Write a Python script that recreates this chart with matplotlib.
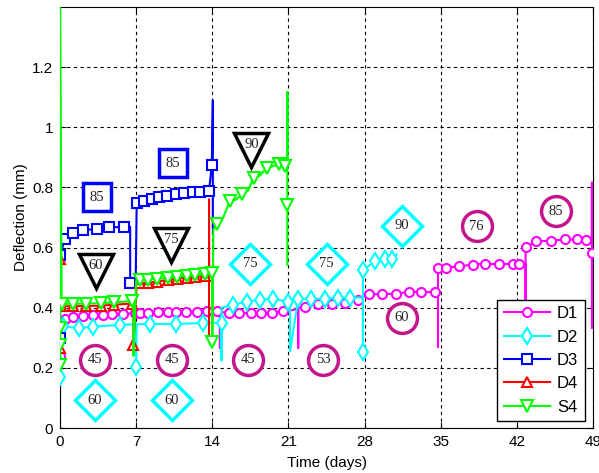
import matplotlib
matplotlib.use('Agg')
import matplotlib.pyplot as plt

# ---- series data (day, deflection in mm); m_* = indices that carry a marker
d1_x = [0, 0.3, 0.46, 1.22, 2.14, 3.06, 3.98, 4.75, 5.82, 6.9, 7.35, 8.1, 9.0, 9.95, 10.7, 11.6,
        12.55, 13.5, 14.4, 14.7, 14.7, 14.7, 15.5, 16.5, 17.6, 18.5, 19.45, 20.5, 21.9, 21.9, 21.9,
        22.5, 23.7, 25.0, 26.2, 27.4, 28.4, 29.6, 30.9, 32.1, 33.2, 34.5, 34.75, 34.75, 34.75,
        35.5, 36.7, 37.95, 39.1, 40.4, 41.6, 42.2, 42.8, 42.8, 42.8, 43.8, 45.15, 46.4, 47.5,
        48.4, 48.9, 48.9, 48.9, 48.9]
d1_y = [0.24, 0.355, 0.362, 0.368, 0.372, 0.375, 0.377, 0.378, 0.380, 0.381, 0.383, 0.384, 0.385,
        0.386, 0.386, 0.387, 0.387, 0.388, 0.388, 0.389, 0.267, 0.385, 0.384, 0.383, 0.381, 0.382,
        0.384, 0.388, 0.395, 0.266, 0.40, 0.404, 0.414, 0.413, 0.416, 0.427, 0.445, 0.445, 0.447,
        0.452, 0.453, 0.451, 0.451, 0.27, 0.533, 0.533, 0.538, 0.543, 0.547, 0.544, 0.547, 0.547,
        0.547, 0.427, 0.603, 0.621, 0.623, 0.627, 0.627, 0.624, 0.624, 0.816, 0.583, 0.333]
d1_m = [0, 2, 3, 4, 5, 6, 7, 8, 9, 10, 11, 12, 13, 14, 15, 16, 17, 18, 22, 23, 24, 25, 26, 27,
        31, 32, 33, 34, 35, 36, 37, 38, 39, 40, 41, 44, 45, 46, 47, 48, 49, 50, 51, 54, 55, 56,
        57, 58, 59, 62]

d2_x = [0, 0.1, 0.3, 1.75, 3.0, 5.5, 6.95, 7.0, 7.05, 8.3, 10.7, 13.1, 14.85, 14.85, 14.85, 15.9,
        17.15, 18.4, 19.6, 20.95, 21.15, 21.15, 21.9, 23.1, 24.4, 25.6, 26.7, 27.85, 27.85, 27.85,
        29.0, 29.9, 30.5, 30.95]
d2_y = [0.17, 0.32, 0.338, 0.332, 0.337, 0.343, 0.345, 0.204, 0.345, 0.346, 0.346, 0.349, 0.35,
        0.225, 0.40, 0.41, 0.42, 0.427, 0.43, 0.42, 0.425, 0.255, 0.43, 0.43, 0.43, 0.433, 0.434,
        0.434, 0.254, 0.527, 0.554, 0.562, 0.562, 0.577]
d2_m = [0, 2, 3, 4, 5, 7, 9, 10, 11, 12, 15, 16, 17, 18, 19, 22, 23, 24, 25, 26, 28, 29, 30, 31, 32]

d3_x = [0, 0, 0.45, 1.2, 2.1, 3.4, 4.5, 5.9, 6.45, 6.45, 6.95, 7.05, 7.72, 8.43, 9.1, 9.84, 10.66,
        11.4, 12.2, 12.87, 13.7, 13.95, 14.05, 14.05]
d3_y = [0.30, 0.575, 0.627, 0.648, 0.657, 0.663, 0.667, 0.669, 0.669, 0.483, 0.483, 0.747, 0.755,
        0.760, 0.768, 0.773, 0.777, 0.783, 0.784, 0.785, 0.788, 0.874, 1.09, 0.65]
d3_m = [0, 1, 2, 3, 4, 5, 6, 7, 9, 11, 12, 13, 14, 15, 16, 17, 18, 19, 20, 21]

d4_x = [0, 0, 0.1, 1.2, 2.4, 3.8, 5.0, 6.6, 6.75, 6.75, 7.05, 7.35, 8.1, 8.9, 9.9, 10.8, 11.7,
        12.4, 13.3, 13.7, 13.7, 13.7]
d4_y = [0.265, 0.563, 0.405, 0.405, 0.406, 0.407, 0.410, 0.414, 0.414, 0.275, 0.48, 0.481, 0.483,
        0.487, 0.492, 0.497, 0.500, 0.503, 0.505, 0.505, 0.76, 0.29]
d4_m = [0, 1, 2, 3, 4, 5, 6, 7, 9, 11, 12, 13, 14, 15, 16, 17, 18]

s4_x = [0, 0, 0, 0, 0.15, 1.2, 2.4, 3.8, 5.0, 6.6, 6.75, 6.75, 7.0, 7.35, 8.1, 8.9, 9.9, 10.8,
        11.7, 12.4, 13.3, 13.97, 14.0, 14.1, 14.4, 15.0, 15.6, 16.2, 16.7, 17.3, 17.8, 18.4, 19.0,
        19.5, 20.1, 20.7, 20.9, 20.9, 20.9, 20.9]
s4_y = [0.21, 0.275, 0.333, 1.45, 0.413, 0.413, 0.414, 0.415, 0.418, 0.422, 0.422, 0.24, 0.49,
        0.491, 0.493, 0.496, 0.499, 0.503, 0.507, 0.510, 0.513, 0.516, 0.285, 0.66, 0.677, 0.70,
        0.754, 0.76, 0.777, 0.79, 0.832, 0.84, 0.866, 0.87, 0.877, 0.873, 0.873, 1.117, 0.743, 0.543]
s4_m = [0, 1, 2, 4, 5, 6, 7, 8, 9, 13, 14, 15, 16, 17, 18, 19, 20, 21, 22, 24, 26, 28, 30, 32,
        34, 35, 38]

# ---- annotation labels (day, value, text)
circ_x = [3.2, 10.3, 17.3, 24.2, 31.4, 38.3, 45.6]
circ_y = [0.227, 0.227, 0.227, 0.227, 0.367, 0.671, 0.721]
circ_t = ['45', '45', '45', '53', '60', '76', '85']

diam_x = [3.2, 10.3, 17.5, 24.5, 31.4]
diam_y = [0.093, 0.093, 0.547, 0.547, 0.673]
diam_t = ['60', '60', '75', '75', '90']

sq_x = [3.4, 10.4]
sq_y = [0.768, 0.88]
sq_t = ['85', '85']

tri_x = [3.3, 10.2, 17.6]
tri_y = [0.521, 0.61, 0.924]
tri_t = ['60', '75', '90']

xticks = [0, 7, 14, 21, 28, 35, 42, 49]
yticks = [0, 0.2, 0.4, 0.6, 0.8, 1.0, 1.2]
ytick_labels = ['0', '0.2', '0.4', '0.6', '0.8', '1', '1.2']

plt.rcParams['font.family'] = ['Liberation Sans', 'DejaVu Sans']

fig = plt.figure(figsize=(5.99, 4.73), dpi=100)
ax = fig.add_axes([0.1002, 0.0951, 0.8898, 0.890])

series = [
    (d1_x, d1_y, d1_m, '#FF00FF', 'o', 6.5, 'D1'),
    (d2_x, d2_y, d2_m, '#00FFFF', 'd', 8.5, 'D2'),
    (d3_x, d3_y, d3_m, '#0000FF', 's', 7.5, 'D3'),
    (d4_x, d4_y, d4_m, '#FF0000', '^', 7.5, 'D4'),
    (s4_x, s4_y, s4_m, '#00FF00', 'v', 8.0, 'S4'),
]
for xs, ys, mk, col, mark, ms, lab in series:
    ax.plot(xs, ys, color=col, lw=1.5, marker=mark, ms=ms, mfc='white', mec=col,
            mew=1.5, markevery=mk, label=lab, zorder=3)

circ_col = '#C4168C'
lab_font = dict(ha='center', va='center', fontsize=10.5, family='Liberation Serif',
                color='#222222', zorder=5)

ax.plot(circ_x, circ_y, ls='none', marker='o', ms=21.5, mfc='white', mec=circ_col, mew=2.5, zorder=4)
for x, y, t in zip(circ_x, circ_y, circ_t):
    ax.text(x, y, t, **lab_font)

ax.plot(diam_x, diam_y, ls='none', marker='D', ms=20, mfc='white', mec='#00FFFF', mew=2.5, zorder=4)
for x, y, t in zip(diam_x, diam_y, diam_t):
    ax.text(x, y, t, **lab_font)

ax.plot(sq_x, sq_y, ls='none', marker='s', ms=20, mfc='white', mec='#0000FF', mew=2.5, zorder=4)
for x, y, t in zip(sq_x, sq_y, sq_t):
    ax.text(x, y, t, **lab_font)

ax.plot(tri_x, tri_y, ls='none', marker='v', ms=25, mfc='white', mec='black', mew=2.5, zorder=4)
for x, y, t in zip(tri_x, tri_y, tri_t):
    ax.text(x, y + 0.018, t, **lab_font)

ax.set_xlim(0, 49)
ax.set_ylim(0, 1.4)
ax.set_xticks(xticks)
ax.set_yticks(yticks)
ax.set_yticklabels(ytick_labels)
ax.tick_params(direction='in', top=True, right=True, labelsize=11, length=4, pad=5)
ax.grid(True, color='black', ls=(0, (3, 3)), lw=0.8)
ax.set_axisbelow(True)
ax.set_xlabel('Time (days)', fontsize=11, labelpad=5)
ax.set_ylabel('Deflection (mm)', fontsize=11, labelpad=3)

ax.legend(loc='lower right', bbox_to_anchor=(0.985, 0.016), borderaxespad=0, fontsize=12,
          frameon=True, fancybox=False, framealpha=1, edgecolor='black', handlelength=2.8,
          borderpad=0.4, labelspacing=0.5, handletextpad=0.4)

fig.savefig('out.png', dpi=100)
